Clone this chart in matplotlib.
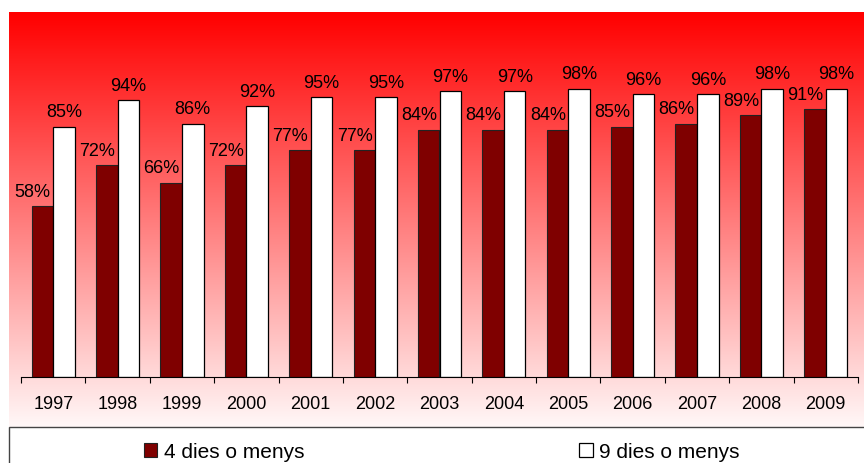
import matplotlib
matplotlib.use("Agg")
import matplotlib.pyplot as plt
import numpy as np
from matplotlib.patches import Rectangle

years = ["1997", "1998", "1999", "2000", "2001", "2002", "2003",
         "2004", "2005", "2006", "2007", "2008", "2009"]
dies4 = [58, 72, 66, 72, 77, 77, 84, 84, 84, 85, 86, 89, 91]
dies9 = [85, 94, 86, 92, 95, 95, 97, 97, 98, 96, 96, 98, 98]

plt.rcParams["font.family"] = ["Liberation Sans", "DejaVu Sans"]
plt.rcParams["font.size"] = 13

fig = plt.figure(figsize=(8.64, 4.64), dpi=100)

# red -> white gradient behind the chart
bg = fig.add_axes([9 / 864, 36 / 464, 855 / 864, 415 / 464])
t = np.linspace(0, 1, 256)[:, None]
grad = np.zeros((256, 1, 3))
grad[..., 0] = 1.0
grad[..., 1] = t * 0.97
grad[..., 2] = t * 0.97
bg.imshow(grad, aspect="auto", extent=[0, 1, 0, 1])
bg.set_axis_off()

# legend box along the bottom
fig.add_artist(Rectangle((9 / 864, -0.05), 1.0, (464 - 428) / 464 + 0.05,
                         transform=fig.transFigure, facecolor="white",
                         edgecolor="#444444", linewidth=1.0, clip_on=False))

ax = fig.add_axes([21 / 864, 86 / 464, 837 / 864, 365 / 464])
ax.patch.set_alpha(0)

x = np.arange(len(years))
w = 0.335
b1 = ax.bar(x - w / 2, dies4, w, color="#7f0000", edgecolor="#222222",
            linewidth=0.8, label="4 dies o menys")
b2 = ax.bar(x + w / 2, dies9, w, color="white", edgecolor="black",
            linewidth=0.9, label="9 dies o menys")

for xi, v in zip(x, dies4):
    ax.annotate(f"{v}%", (xi - w / 2, v), xytext=(-7, 7.5),
                textcoords="offset points", ha="center", va="baseline")
for xi, v in zip(x, dies9):
    ax.annotate(f"{v}%", (xi + w / 2, v), xytext=(0, 7.5),
                textcoords="offset points", ha="center", va="baseline")

ax.set_xlim(-0.5, len(years) - 0.5)
ax.set_ylim(0, 124)
ax.set_yticks([])
for s in ["top", "right", "left"]:
    ax.spines[s].set_visible(False)
ax.spines["bottom"].set_color("black")
ax.spines["bottom"].set_linewidth(0.8)

ax.set_xticks(x)
ax.set_xticklabels(years)
ax.set_xticks(np.arange(-0.5, len(years)), minor=True)
ax.tick_params(axis="x", which="major", length=0, pad=13)
ax.tick_params(axis="x", which="minor", length=4, width=0.8, direction="out")

fig.legend(handles=[b1, b2], loc="center", ncol=2, frameon=False,
           bbox_to_anchor=(441.5 / 864, 11 / 464), columnspacing=13.2,
           handlelength=0.67, handleheight=0.67, handletextpad=0.29,
           borderaxespad=0, borderpad=0, fontsize=15)

fig.savefig("out.png", dpi=100)
